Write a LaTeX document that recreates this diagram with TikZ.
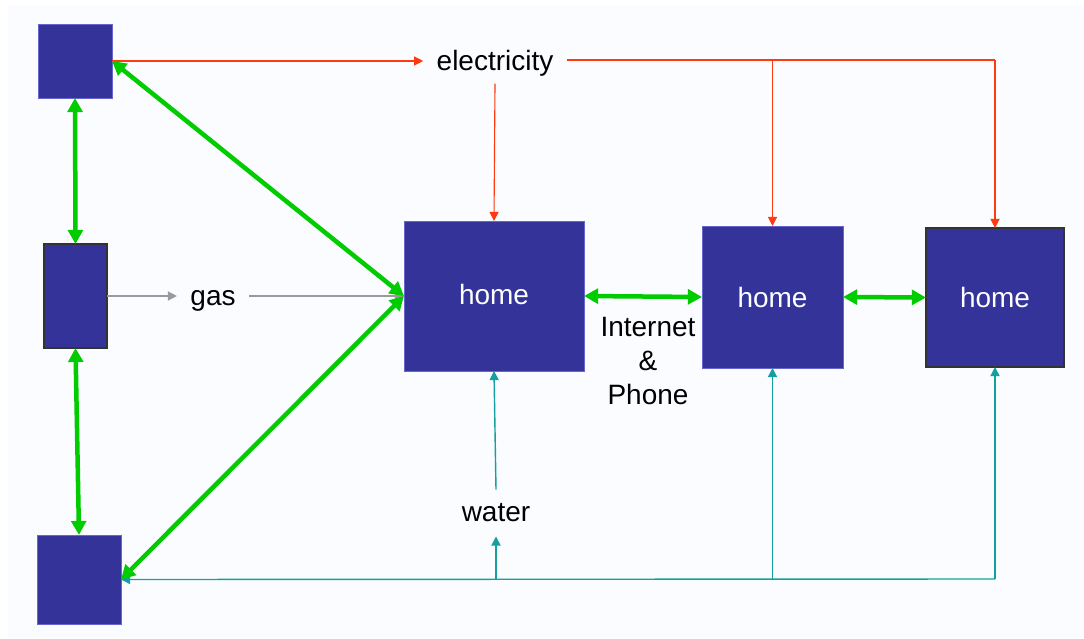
\documentclass[tikz,border=0pt]{standalone}
\usepackage{fontspec}
\setmainfont{Liberation Sans}
\usepackage{xcolor}
\usepackage{tikz}
\usetikzlibrary{arrows.meta}
\definecolor{boxFill}{HTML}{333399}
\definecolor{boxEdge}{HTML}{6666CC}
\definecolor{bg}{HTML}{FAFCFF}
\definecolor{linkGreen}{HTML}{00CC00}
\definecolor{elecRed}{HTML}{FF3A10}
\definecolor{waterTeal}{HTML}{14A0A0}
\definecolor{gasGrey}{HTML}{9A9A9A}
\tikzset{
  box/.style={fill=boxFill, draw=boxEdge, line width=0.5pt, inner sep=0pt, outer sep=0pt,
    text=white, font=\fontsize{19.9}{24}\selectfont},
  darkBox/.style={box, draw=black!80, line width=0.8pt},
  lab/.style={text=black, font=\fontsize{19.9}{24}\selectfont, inner xsep=0.33cm, inner ysep=0.18cm},
  linkLine/.style={draw=linkGreen, line width=3.2pt, {Triangle[length=10pt,width=10.5pt]}-{Triangle[length=10pt,width=10.5pt]}},
  thinTip/.style={-{Triangle[length=6.5pt,width=6.5pt]}},
  elecLine/.style={draw=elecRed, line width=0.8pt},
  gasLine/.style={draw=gasGrey, line width=1pt},
  waterLine/.style={draw=waterTeal, line width=1pt}
}

\begin{document}
\begin{tikzpicture}[x=0.025cm,y=-0.025cm]
\useasboundingbox (0,0) rectangle (1084,638);
\fill[bg] (8,6) rectangle (1084,638);

\node[box, minimum width=1.85cm, minimum height=1.85cm] (srcE) at (75,61) {};
\node[darkBox, minimum width=1.575cm, minimum height=2.6cm] (srcG) at (75.5,296) {};
\node[box, minimum width=2.1cm, minimum height=2.225cm] (srcW) at (79,579.5) {};

\node[box, minimum width=4.5cm, minimum height=3.75cm] (homeA) at (494,296) {\raisebox{2pt}{home}};
\node[box, minimum width=3.525cm, minimum height=3.55cm] (homeB) at (772.5,297) {home};
\node[darkBox, minimum width=3.45cm, minimum height=3.475cm] (homeC) at (995,297.5) {home};

\node[lab] (lblE) at (495,63) {electricity};
\node[lab] (lblG) at (213,301) {gas};
\node[lab, inner ysep=0.35cm] (lblW) at (496,513) {water};
\node[lab, align=center] (lblNet) at (648,361) {Internet\\\&\\Phone};

\coordinate (eC) at (995,60);
\coordinate (wC) at (995,579);

\draw[elecLine, thinTip] (srcE.east) -- (lblE.west |- srcE.east);
\draw[elecLine] (lblE.east |- eC) -- (eC);
\draw[elecLine, thinTip] (eC) -- (homeC.north);
\draw[elecLine, thinTip] (homeB.north |- eC) -- (homeB.north);
\draw[elecLine, thinTip] (lblE.south) -- (homeA.north);

\draw[gasLine, thinTip] (srcG.east) -- (lblG.west |- srcG.east);
\draw[gasLine, thinTip] (lblG.east |- homeA.west) -- (homeA.west);

\draw[waterLine, thinTip] (wC) -- (srcW.east);
\draw[waterLine, thinTip] (wC) -- (homeC.south);
\draw[waterLine, thinTip] (homeB.south |- wC) -- (homeB.south);
\draw[waterLine, thinTip] (lblW.south |- wC) -- (lblW.south);
\draw[waterLine, thinTip] (lblW.north) -- (homeA.south);

\draw[linkLine] (srcE.south) -- (srcG.north);
\draw[linkLine] (srcG.south) -- (srcW.north);
\draw[linkLine] (srcE.east) -- (homeA.west);
\draw[linkLine] (srcW.east) -- (homeA.west);
\draw[linkLine] (homeA.east) -- (homeB.west);
\draw[linkLine] (homeB.east) -- (homeC.west);
\end{tikzpicture}
\end{document}
